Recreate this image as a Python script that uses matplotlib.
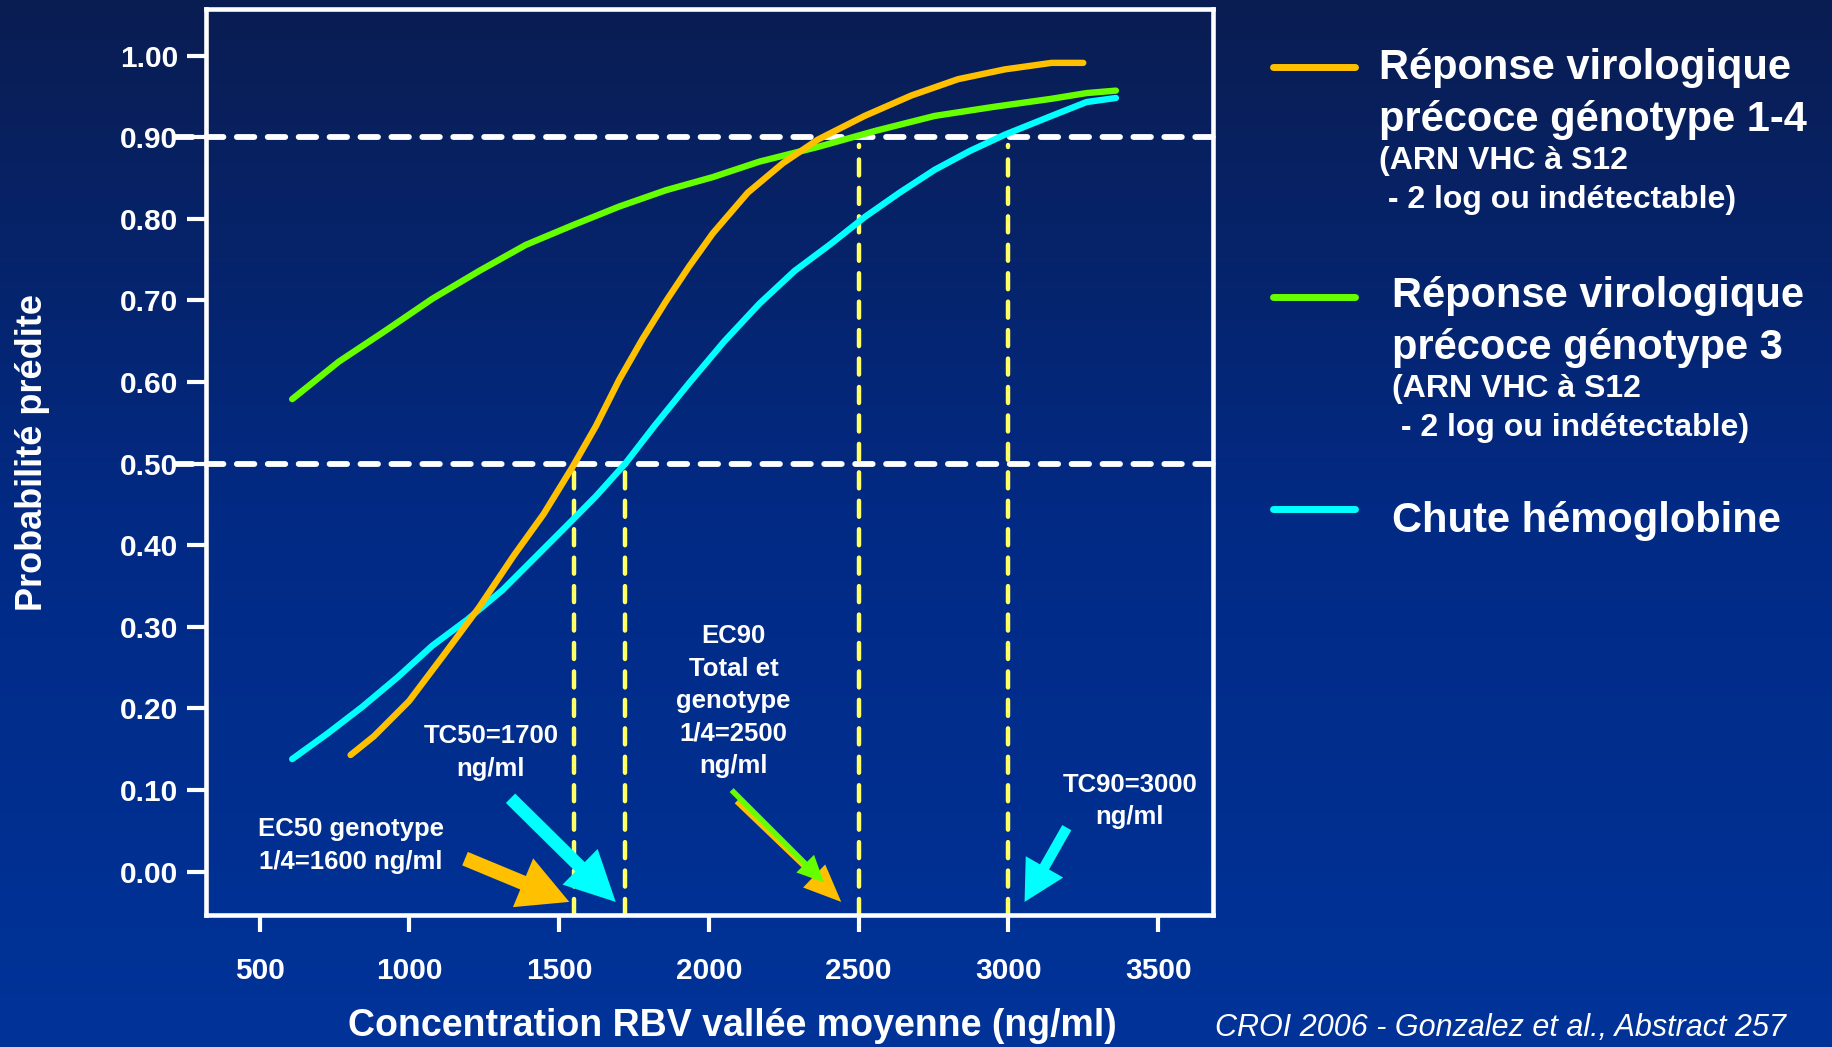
import numpy as np
import matplotlib
matplotlib.use("Agg")
import matplotlib.pyplot as plt
from matplotlib.lines import Line2D
from matplotlib.colors import LinearSegmentedColormap

plt.rcParams['font.family'] = ['Liberation Sans', 'DejaVu Sans']
plt.rcParams['font.weight'] = 'bold'

# ---- data: predicted probability vs mean trough RBV concentration (ng/ml)
geno14_x = [804, 882, 999, 1116, 1233, 1350, 1448, 1545, 1623, 1701, 1779,
            1857, 1935, 2013, 2130, 2247, 2364, 2520, 2676, 2832, 2988, 3144, 3250]
geno14_y = [0.143, 0.166, 0.209, 0.266, 0.324, 0.388, 0.438, 0.496, 0.546, 0.603,
            0.653, 0.699, 0.742, 0.782, 0.832, 0.868, 0.897, 0.926, 0.951, 0.971,
            0.983, 0.991, 0.991]

geno3_x = [609, 765, 921, 1077, 1233, 1389, 1545, 1701, 1857, 2013, 2169,
           2364, 2559, 2754, 2949, 3144, 3261, 3359]
geno3_y = [0.579, 0.625, 0.663, 0.702, 0.736, 0.768, 0.792, 0.815, 0.835, 0.851,
           0.870, 0.888, 0.908, 0.926, 0.937, 0.947, 0.954, 0.957]

hb_x = [609, 726, 843, 960, 1077, 1194, 1311, 1428, 1545, 1623, 1721, 1818,
        1935, 2052, 2169, 2286, 2403, 2520, 2637, 2754, 2871, 2988, 3144, 3261, 3359]
hb_y = [0.138, 0.169, 0.202, 0.238, 0.277, 0.309, 0.345, 0.388, 0.431, 0.460,
        0.500, 0.546, 0.599, 0.650, 0.696, 0.736, 0.768, 0.802, 0.832, 0.860,
        0.883, 0.903, 0.926, 0.943, 0.948]

x_ticks = [500, 1000, 1500, 2000, 2500, 3000, 3500]
y_ticks = [0.0, 0.1, 0.2, 0.3, 0.4, 0.5, 0.6, 0.7, 0.8, 0.9, 1.0]
y_ticklabels = ["0.00", "0.10", "0.20", "0.30", "0.40", "0.50",
                "0.60", "0.70", "0.80", "0.90", "1.00"]

prob_levels = [0.5, 0.9]
# concentration markers: (x, probability level they rise to)
conc_marks = [(1550, 0.49), (1720, 0.49), (2500, 0.89), (3000, 0.89)]

ORANGE = "#ffc000"
GREEN = "#66ff00"
CYAN = "#00ffff"
YELLOW = "#ffff66"
WHITE = "white"

fig = plt.figure(figsize=(18.32, 10.47), dpi=100)

# vertical blue gradient background
bg = fig.add_axes([0, 0, 1, 1], zorder=-10)
cmap = LinearSegmentedColormap.from_list("bg", ["#0a1d52", "#022a85", "#003399"])
grad = np.linspace(0, 1, 256).reshape(-1, 1)
bg.imshow(grad, aspect="auto", cmap=cmap, extent=[0, 1, 1, 0])
bg.set_axis_off()

ax = fig.add_axes([0.1124, 0.1261, 0.5497, 0.8653])
ax.set_facecolor("none")
ax.set_xlim(321, 3683)
ax.set_ylim(-0.053, 1.057)

for s in ax.spines.values():
    s.set_color(WHITE)
    s.set_linewidth(3.3)

ax.set_xticks(x_ticks)
ax.set_yticks(y_ticks)
ax.set_yticklabels(y_ticklabels)
ax.tick_params(axis="both", colors=WHITE, width=3.0, labelsize=21.5)
ax.tick_params(axis="x", length=12, pad=18)
ax.tick_params(axis="y", length=14, pad=6)
for lab in ax.get_xticklabels() + ax.get_yticklabels():
    lab.set_fontweight("bold")

# horizontal reference levels
for lv in prob_levels:
    ax.plot([219, 3683], [lv, lv], color=WHITE, lw=4.2, dashes=(3.0, 2.3),
            dash_capstyle="round", clip_on=False, zorder=2)

# vertical concentration markers
for xv, top in conc_marks:
    ax.plot([xv, xv], [-0.053, top], color=YELLOW, lw=3.2, dashes=(3.6, 2.8),
            dash_capstyle="round", clip_on=False, zorder=2)

# response curves
ax.plot(geno3_x, geno3_y, color=GREEN, lw=4.6, solid_capstyle="round", zorder=3)
ax.plot(hb_x, hb_y, color=CYAN, lw=4.6, solid_capstyle="round", zorder=3)
ax.plot(geno14_x, geno14_y, color=ORANGE, lw=4.6, solid_capstyle="round", zorder=4)

# annotations
txt_kw = dict(color=WHITE, fontsize=18.5, fontweight="bold", ha="center", va="center")
ax.text(804, 0.032, "EC50 genotype\n1/4=1600 ng/ml", linespacing=1.45, **txt_kw)
ax.text(1272, 0.146, "TC50=1700\nng/ml", linespacing=1.45, **txt_kw)
ax.text(2083, 0.209, "EC90\nTotal et\ngenotype\n1/4=2500\nng/ml", linespacing=1.45, **txt_kw)
ax.text(3406, 0.087, "TC90=3000\nng/ml", linespacing=1.4, **txt_kw)

def arrow(x0, y0, x1, y1, color, tail, hw, hl, z=5):
    ax.annotate("", xy=(x1, y1), xytext=(x0, y0),
                arrowprops=dict(arrowstyle=f"simple,head_length={hl},head_width={hw},tail_width={tail}",
                                mutation_scale=10, color=color, shrinkA=0, shrinkB=0,
                                lw=0),
                annotation_clip=False, zorder=z)

arrow(1186, 0.016, 1534, -0.037, ORANGE, 1.05, 3.8, 3.6)
arrow(1338, 0.090, 1689, -0.037, CYAN, 0.95, 3.6, 3.6)
arrow(2092, 0.086, 2442, -0.037, ORANGE, 0.35, 2.3, 2.7)
arrow(2076, 0.100, 2384, -0.013, GREEN, 0.4, 1.8, 1.9, z=6)
arrow(3195, 0.054, 3054, -0.037, CYAN, 0.75, 3.1, 2.9)

fig.text(0.3999, 0.0205, "Concentration RBV vallée moyenne (ng/ml)", color=WHITE,
         fontsize=27, fontweight="bold", ha="center", va="center")
fig.text(0.0179, 0.568, "Probabilité prédite", color=WHITE, fontsize=26,
         fontweight="bold", rotation=90, ha="center", va="center")

# legend block
leg_lines = [(0.9364, ORANGE), (0.7165, GREEN), (0.5135, CYAN)]
for y, c in leg_lines:
    fig.add_artist(Line2D([0.6949, 0.7397], [y, y], color=c, lw=5,
                          solid_capstyle="round", transform=fig.transFigure))

big, small = 30, 23
legend_text = [
    (0.7525, 0.9241, "Réponse virologique", big),
    (0.7525, 0.8750, "précoce génotype 1-4", big),
    (0.7525, 0.8382, "(ARN VHC à S12", small),
    (0.7525, 0.8013, " - 2 log ou indétectable)", small),
    (0.7596, 0.7065, "Réponse virologique", big),
    (0.7596, 0.6574, "précoce génotype 3", big),
    (0.7596, 0.6205, "(ARN VHC à S12", small),
    (0.7596, 0.5838, " - 2 log ou indétectable)", small),
    (0.7596, 0.4922, "Chute hémoglobine", big),
]
for x, y, s, fs in legend_text:
    fig.text(x, y, s, color=WHITE, fontsize=fs, fontweight="bold",
             ha="left", va="baseline")

fig.text(0.6632, 0.004, "CROI 2006 - Gonzalez et al., Abstract 257", color=WHITE,
         fontsize=22, fontstyle="italic", fontweight="normal", ha="left", va="bottom")

fig.savefig("out.png", dpi=100)
